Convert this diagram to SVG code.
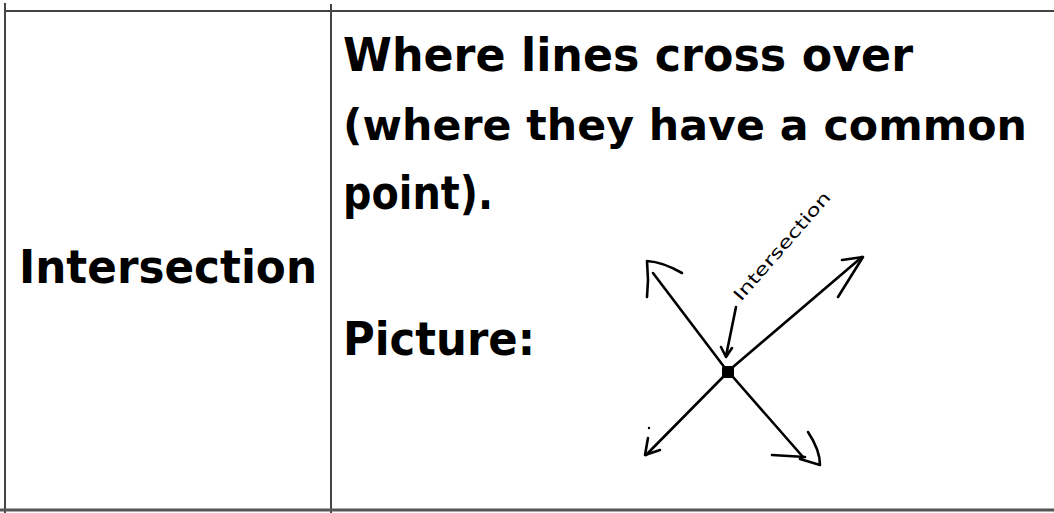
<svg xmlns="http://www.w3.org/2000/svg" width="1054" height="513" viewBox="0 0 1054 513">
<style>
.grid{stroke:#444;stroke-width:2;fill:none}
.big{font-family:"DejaVu Sans","Liberation Sans",sans-serif;font-weight:bold;font-size:46px;fill:#000}
.ink{stroke:#000;stroke-width:2.6;fill:none;stroke-linecap:round;stroke-linejoin:round}
.hand{font-family:"DejaVu Sans","Liberation Sans",sans-serif;font-size:17px;fill:#000}
</style>
<rect width="1054" height="513" fill="#fff"/>
<g id="table">
<line class="grid" x1="5" y1="11" x2="1054" y2="11"/>
<line class="grid" x1="5" y1="3" x2="5" y2="513"/>
<line class="grid" x1="331" y1="4" x2="331" y2="513"/>
<line x1="0" y1="510" x2="1054" y2="510" stroke="#555" stroke-width="3"/>
</g>
<g id="term">
<text class="big" x="19" y="283" textLength="298" lengthAdjust="spacingAndGlyphs">Intersection</text>
</g>
<g id="definition">
<text class="big" x="343" y="71" textLength="570" lengthAdjust="spacingAndGlyphs">Where lines cross over</text>
<text class="big" x="343" y="140" textLength="684" lengthAdjust="spacingAndGlyphs" style="font-size:43px">(where they have a common</text>
<text class="big" x="343" y="209" textLength="150" lengthAdjust="spacingAndGlyphs">point).</text>
<text class="big" x="343" y="355" textLength="192" lengthAdjust="spacingAndGlyphs">Picture:</text>
</g>
<g id="picture">
<line class="ink" x1="728" y1="372" x2="653" y2="273"/>
<path class="ink" d="M647,297 L648,280 L647,261 Q663,262 682,273"/>
<line class="ink" x1="733" y1="367" x2="862" y2="257"/>
<path class="ink" d="M842,260 L863,257 L838,297"/>
<line class="ink" x1="723" y1="377" x2="646" y2="455"/>
<path class="ink" d="M648,438 L645,455 L660,450"/>
<circle cx="649" cy="428" r="1.2" fill="#000"/>
<line class="ink" x1="733" y1="377" x2="803" y2="457"/>
<path class="ink" d="M772,455 L805,457 M808,432 Q820,450 820,465 L800,459"/>
<rect x="722" y="366" width="12" height="12" rx="2" fill="#000"/>
<path class="ink" d="M736,307 L726,356 M721,347 L726,357 L732,348" stroke-width="2"/>
<text class="hand" x="0" y="0" transform="translate(741,302) rotate(-49)" textLength="138" lengthAdjust="spacingAndGlyphs">Intersection</text>
</g>
</svg>
